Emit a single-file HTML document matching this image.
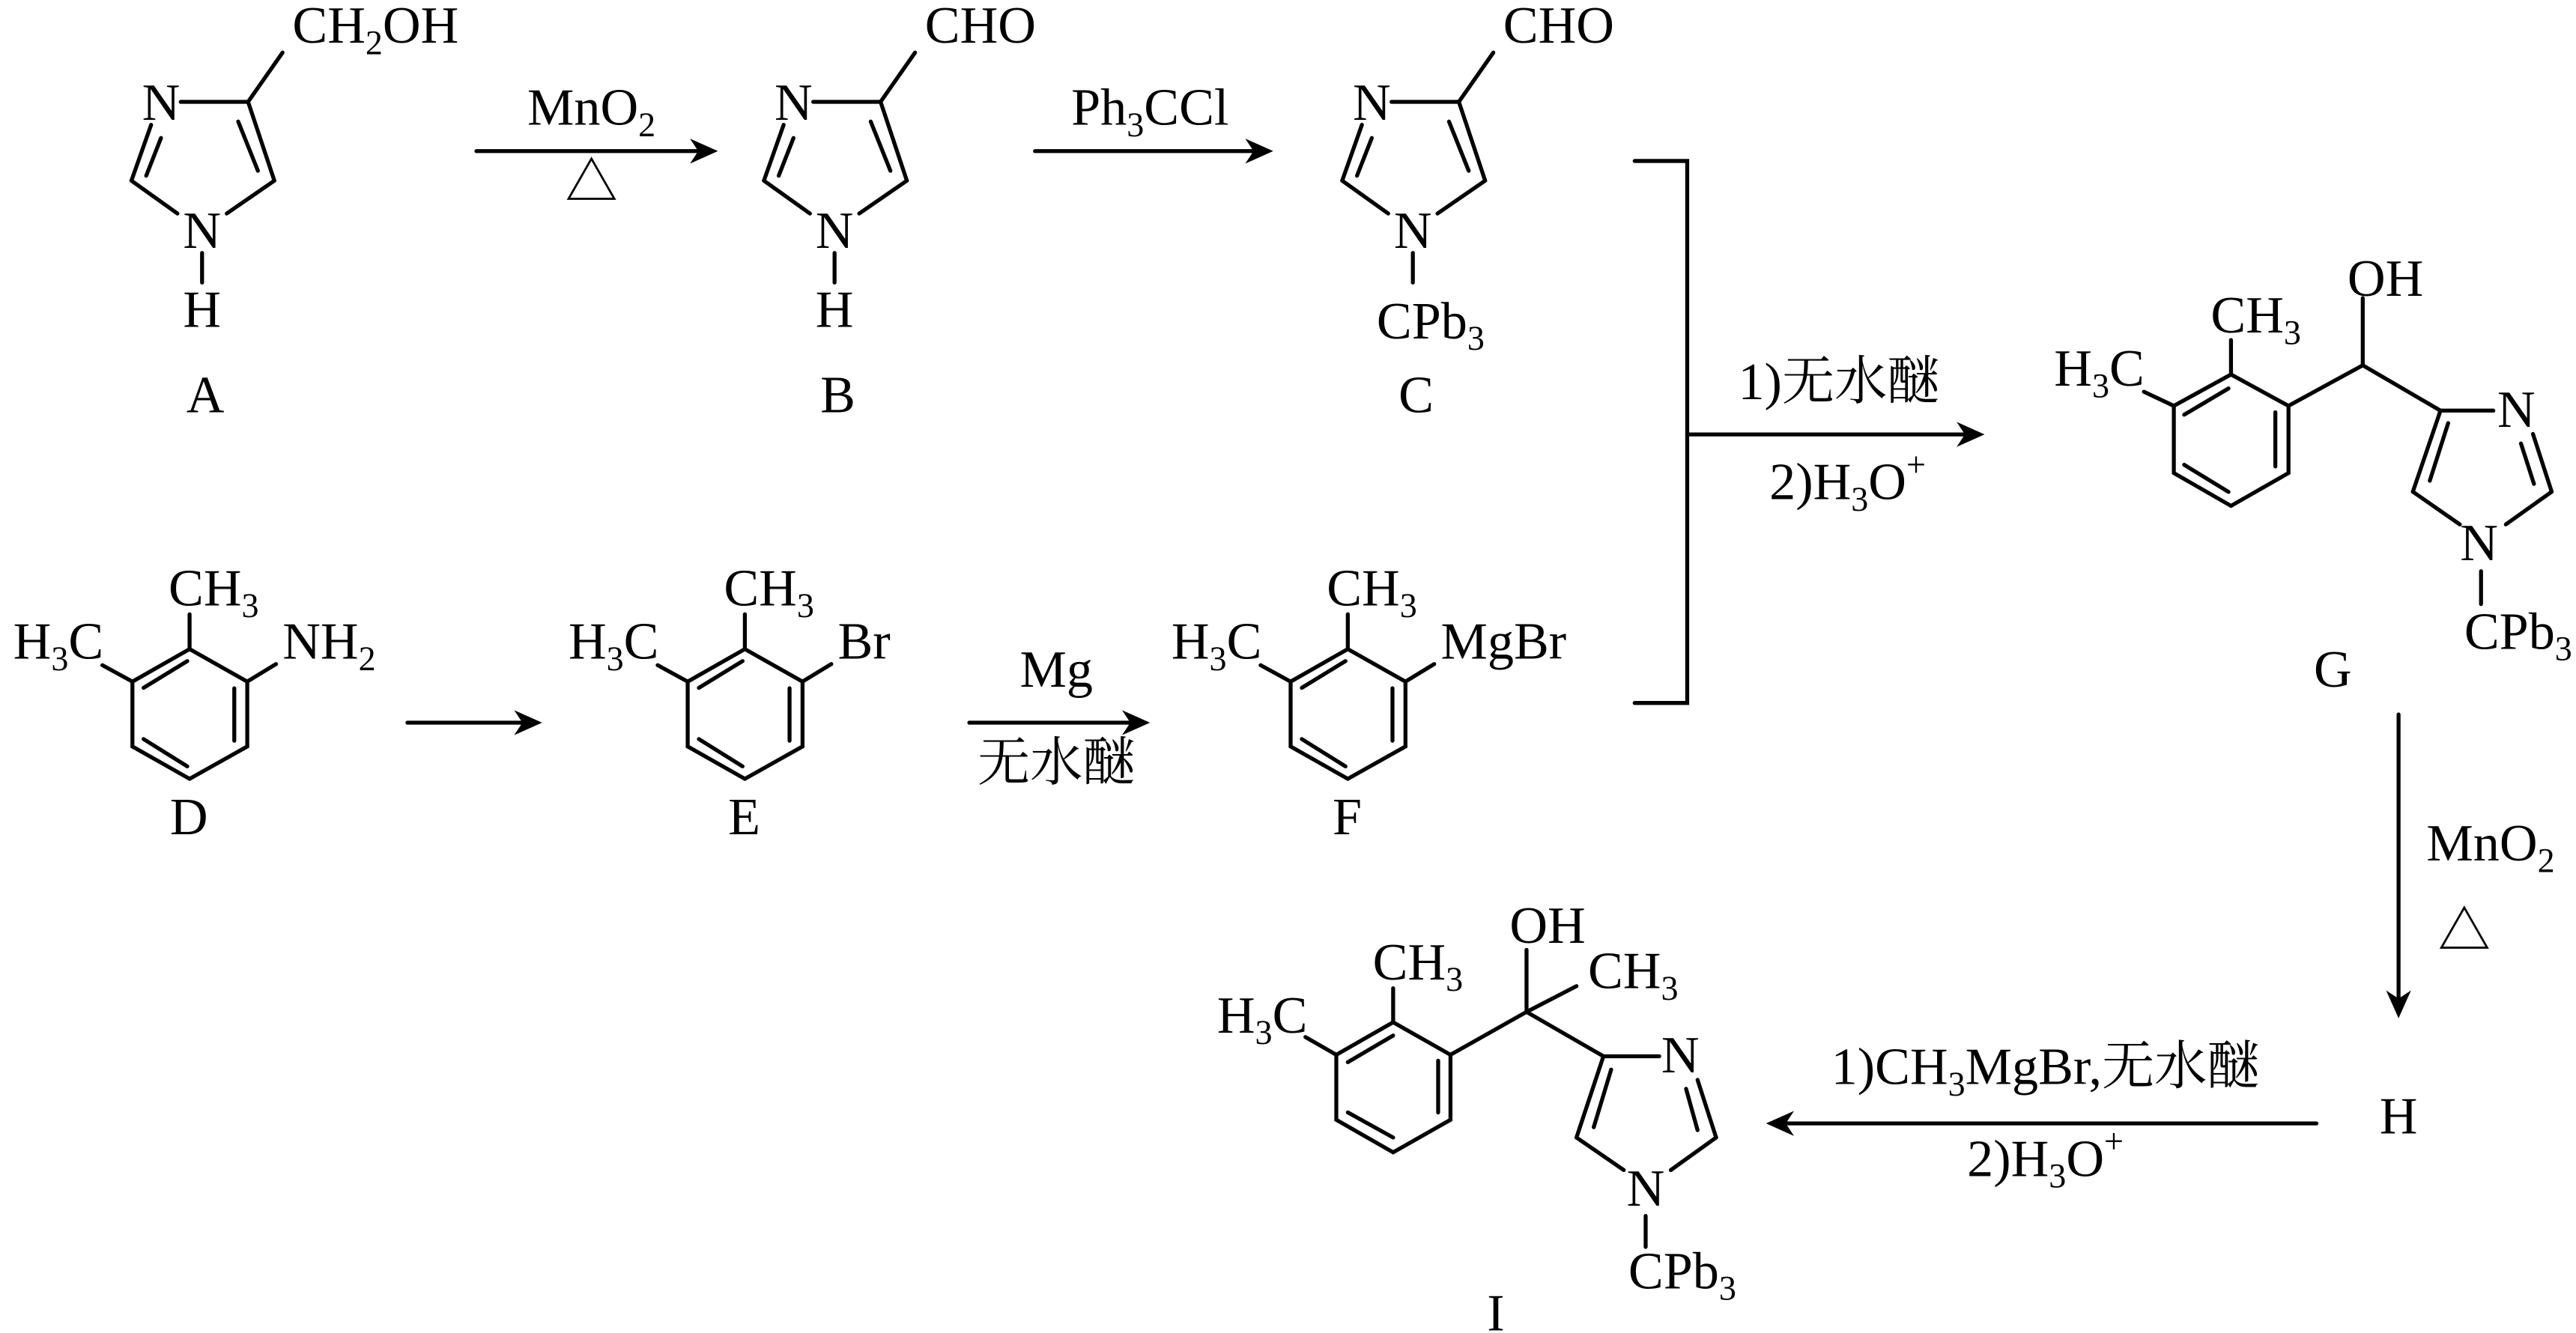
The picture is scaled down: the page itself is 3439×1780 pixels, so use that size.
<!DOCTYPE html>
<html><head><meta charset="utf-8"><style>
html,body{margin:0;padding:0;background:#fff;}
svg{display:block;}
text{font-family:"Liberation Serif","Noto Serif CJK SC",serif;font-size:32px;fill:#000;}
.c{text-anchor:middle;}
.e{text-anchor:end;}
</style></head><body>
<svg width="3439" height="1780" viewBox="0 0 1568 811.6" preserveAspectRatio="none" xmlns="http://www.w3.org/2000/svg">
<defs>
<path id="ah" d="M0,0 L-17,-7.6 L-12,0 L-17,7.6 Z" fill="#000"/>
<g id="imid">
<line x1="110" y1="62" x2="151" y2="62"/>
<line x1="151" y1="62" x2="167" y2="110"/>
<line x1="145" y1="74" x2="157" y2="104"/>
<line x1="167" y1="110" x2="138" y2="130"/>
<line x1="80" y1="110" x2="108" y2="130"/>
<line x1="80" y1="110" x2="92" y2="76"/>
<line x1="89" y1="107" x2="98" y2="84"/>
<line x1="151" y1="62" x2="172" y2="32"/>
</g>
<g id="benz">
<polyline points="80.6,415 115.4,395.2 150.5,415 150.5,454.5 115.4,474.2 80.6,454.5 80.6,415" fill="none"/>
<line x1="114" y1="402.5" x2="87.4" y2="418.8"/>
<line x1="142.6" y1="419" x2="142.6" y2="451"/>
<line x1="87.4" y1="450" x2="114" y2="466.6"/>
<line x1="115.4" y1="395.2" x2="115.4" y2="374"/>
<line x1="80.6" y1="415" x2="62.3" y2="405"/>
<line x1="150.5" y1="415" x2="168" y2="404.3"/>
</g>
</defs>
<g stroke="#000" stroke-width="2.4" stroke-linecap="round" fill="none">
<use href="#imid"/>
<line x1="123" y1="154" x2="123" y2="172"/>
<use href="#imid" transform="translate(385,0)"/>
<line x1="508" y1="154" x2="508" y2="172"/>
<use href="#imid" transform="translate(737,0)"/>
<line x1="860" y1="154" x2="860" y2="172"/>

<use href="#benz"/>
<use href="#benz" transform="translate(338,0)"/>
<use href="#benz" transform="translate(705,0)"/>

<!-- G -->
<polyline points="1323.2,247.1 1358,228 1393,247.1 1393,288 1358,308 1323.2,288 1323.2,247.1"/>
<line x1="1356.5" y1="236.5" x2="1329.5" y2="252.5"/>
<line x1="1385" y1="251" x2="1385" y2="284"/>
<line x1="1329.5" y1="283" x2="1356.5" y2="299.5"/>
<line x1="1358" y1="228" x2="1358" y2="207"/>
<line x1="1323.2" y1="247.1" x2="1305" y2="238.5"/>
<line x1="1393" y1="247.1" x2="1438.2" y2="222.4"/>
<line x1="1438.2" y1="222.4" x2="1438.2" y2="181.5"/>
<line x1="1438.2" y1="222.4" x2="1485.5" y2="250"/>
<line x1="1485.5" y1="250" x2="1517.7" y2="250"/>
<line x1="1541.8" y1="264.2" x2="1553.2" y2="299.4"/>
<line x1="1534.5" y1="270" x2="1542.4" y2="294.6"/>
<line x1="1553.2" y1="299.4" x2="1525.3" y2="319.3"/>
<line x1="1468.7" y1="299.4" x2="1497.3" y2="319.3"/>
<line x1="1485.5" y1="250" x2="1468.7" y2="299.4"/>
<line x1="1490.2" y1="257.6" x2="1479" y2="292.7"/>
<line x1="1510.2" y1="347.8" x2="1510.2" y2="367.8"/>

<!-- I -->
<polyline points="813.4,642.2 848,622.4 882.9,642.2 882.9,681.8 848,701.6 813.4,681.8 813.4,642.2"/>
<line x1="848" y1="630.5" x2="820.4" y2="646.7"/>
<line x1="875.4" y1="645.8" x2="875.4" y2="677.3"/>
<line x1="820.4" y1="677.3" x2="848" y2="692.6"/>
<line x1="848" y1="622.4" x2="848" y2="601.7"/>
<line x1="813.4" y1="642.2" x2="794.6" y2="631.4"/>
<line x1="882.9" y1="642.2" x2="929.2" y2="616.1"/>
<line x1="929.2" y1="616.1" x2="929.2" y2="578.3"/>
<line x1="929.2" y1="616.1" x2="959.6" y2="600.4"/>
<line x1="929.2" y1="616.1" x2="976" y2="643.1"/>
<line x1="976" y1="643.1" x2="1010" y2="643.1"/>
<line x1="1033.3" y1="657.5" x2="1044.6" y2="692.6"/>
<line x1="1026.3" y1="662.9" x2="1033.3" y2="688.1"/>
<line x1="1044.6" y1="692.6" x2="1017" y2="712.4"/>
<line x1="959.6" y1="692.6" x2="988.4" y2="712.4"/>
<line x1="976" y1="643.1" x2="959.6" y2="692.6"/>
<line x1="980.7" y1="651.2" x2="970.1" y2="686.3"/>
<line x1="1001.7" y1="740.3" x2="1001.7" y2="759.2"/>

<!-- arrows -->
<line x1="290" y1="92" x2="425" y2="92"/>
<line x1="630" y1="92" x2="763" y2="92"/>
<polyline points="995,98 1027,98 1027,428 995,428"/>
<line x1="1027" y1="264.5" x2="1196" y2="264.5"/>
<line x1="248" y1="440" x2="318" y2="440"/>
<line x1="590" y1="440" x2="688" y2="440"/>
<line x1="1460" y1="435" x2="1460" y2="608"/>
<line x1="1410" y1="684" x2="1087" y2="684"/>
</g>
<use href="#ah" transform="translate(437,92)"/>
<use href="#ah" transform="translate(775,92)"/>
<use href="#ah" transform="translate(1208,264.5)"/>
<use href="#ah" transform="translate(330,440)"/>
<use href="#ah" transform="translate(700,440)"/>
<use href="#ah" transform="translate(1460,620) rotate(90)"/>
<use href="#ah" transform="translate(1075,684) rotate(180)"/>

<!-- A/B/C text -->
<text class="c" x="98" y="73">N</text>
<text class="c" x="123" y="151">N</text>
<text class="c" x="123" y="199">H</text>
<text class="c" x="125" y="251">A</text>
<text x="178" y="26">CH<tspan font-size="21" dy="7">2</tspan><tspan dy="-7">OH</tspan></text>

<text class="c" x="483" y="73">N</text>
<text class="c" x="508" y="151">N</text>
<text class="c" x="508" y="199">H</text>
<text class="c" x="510" y="251">B</text>
<text x="563" y="26">CHO</text>

<text class="c" x="835" y="73">N</text>
<text class="c" x="860" y="151">N</text>
<text x="838" y="206">CPb<tspan font-size="21" dy="7">3</tspan></text>
<text class="c" x="862" y="251">C</text>
<text x="915" y="26">CHO</text>

<text class="c" x="360" y="76">MnO<tspan font-size="21" dy="7">2</tspan></text>
<text class="c" x="360" y="122">△</text>
<text class="c" x="700" y="76">Ph<tspan font-size="21" dy="7">3</tspan><tspan dy="-7">CCl</tspan></text>

<text x="1058" y="243">1)无水醚</text>
<text x="1077" y="304">2)H<tspan font-size="21" dy="7">3</tspan><tspan dy="-7">O</tspan><tspan font-size="21" dy="-14">+</tspan></text>

<!-- D/E/F text -->
<text x="102.6" y="368.6">CH<tspan font-size="21" dy="7">3</tspan></text>
<text class="e" x="63" y="401">H<tspan font-size="21" dy="7">3</tspan><tspan dy="-7">C</tspan></text>
<text x="172" y="401">NH<tspan font-size="21" dy="7">2</tspan></text>
<text class="c" x="115" y="508">D</text>

<text x="440.6" y="368.6">CH<tspan font-size="21" dy="7">3</tspan></text>
<text class="e" x="401" y="401">H<tspan font-size="21" dy="7">3</tspan><tspan dy="-7">C</tspan></text>
<text x="510" y="401">Br</text>
<text class="c" x="453" y="508">E</text>

<text x="807.6" y="368.6">CH<tspan font-size="21" dy="7">3</tspan></text>
<text class="e" x="768" y="401">H<tspan font-size="21" dy="7">3</tspan><tspan dy="-7">C</tspan></text>
<text x="877" y="401">MgBr</text>
<text class="c" x="820" y="508">F</text>

<text class="c" x="643" y="418">Mg</text>
<text class="c" x="643" y="475">无水醚</text>

<!-- G text -->
<text x="1345.7" y="202.5">CH<tspan font-size="21" dy="7">3</tspan></text>
<text class="e" x="1305.3" y="234.8">H<tspan font-size="21" dy="7">3</tspan><tspan dy="-7">C</tspan></text>
<text class="c" x="1452" y="180">OH</text>
<text class="c" x="1531.7" y="260">N</text>
<text class="c" x="1509" y="341">N</text>
<text x="1500" y="395">CPb<tspan font-size="21" dy="7">3</tspan></text>
<text class="c" x="1420" y="418">G</text>

<text x="1477" y="524">MnO<tspan font-size="21" dy="7">2</tspan></text>
<text class="c" x="1500" y="578">△</text>
<text class="c" x="1460" y="690">H</text>

<text class="c" x="1245" y="660">1)CH<tspan font-size="21" dy="7">3</tspan><tspan dy="-7">MgBr,无水醚</tspan></text>
<text class="c" x="1245" y="716">2)H<tspan font-size="21" dy="7">3</tspan><tspan dy="-7">O</tspan><tspan font-size="21" dy="-14">+</tspan></text>

<!-- I text -->
<text x="835.6" y="596.3">CH<tspan font-size="21" dy="7">3</tspan></text>
<text class="e" x="795.8" y="628.7">H<tspan font-size="21" dy="7">3</tspan><tspan dy="-7">C</tspan></text>
<text class="c" x="942" y="574">OH</text>
<text x="966.6" y="601.7">CH<tspan font-size="21" dy="7">3</tspan></text>
<text class="c" x="1022.8" y="653">N</text>
<text class="c" x="1001.7" y="734">N</text>
<text x="991.2" y="784.4">CPb<tspan font-size="21" dy="7">3</tspan></text>
<text class="c" x="910.5" y="810">I</text>
</svg>
</body></html>
